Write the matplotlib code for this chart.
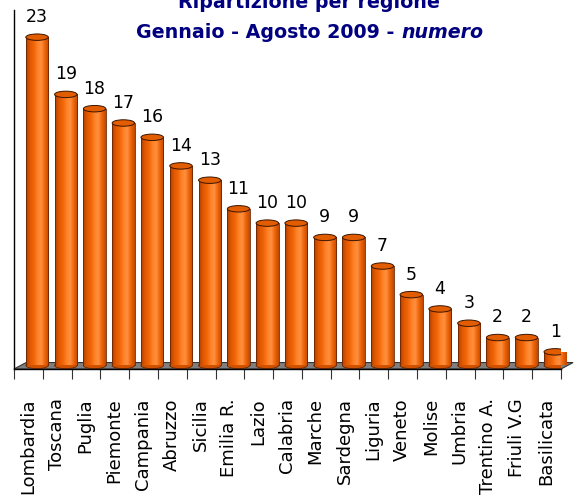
import numpy as np
import matplotlib
matplotlib.use("Agg")
import matplotlib.pyplot as plt
from matplotlib.patches import Ellipse, Rectangle, Polygon
from matplotlib.colors import LinearSegmentedColormap

regions = ["Lombardia", "Toscana", "Puglia", "Piemonte", "Campania", "Abruzzo",
           "Sicilia", "Emilia R.", "Lazio", "Calabria", "Marche", "Sardegna",
           "Liguria", "Veneto", "Molise", "Umbria", "Trentino A.", "Friuli V.G",
           "Basilicata"]
counts = [23, 19, 18, 17, 16, 14, 13, 11, 10, 10, 9, 9, 7, 5, 4, 3, 2, 2, 1]

TITLE_COLOR = "#000080"
BAR_W = 0.78
CAP_H = 0.45

body_cmap = LinearSegmentedColormap.from_list(
    "cyl", ["#b04000", "#e05800", "#f06408", "#ff8025", "#ff9040", "#ee6408", "#c04800"])

fig = plt.figure(figsize=(5.74, 5.0), dpi=100)
ax = fig.add_axes([14 / 574, (500 - 369) / 500, 547 / 574, (369 - 10) / 500])
ax.set_xlim(-0.80, 18.2)
ax.set_ylim(-0.2, 24.9)

# grey floor
floor = Polygon([(-0.80, -0.2), (18.2, -0.2), (18.62, 0.25), (-0.38, 0.25)],
                closed=True, facecolor="#808080", edgecolor="#333333", lw=0.8,
                clip_on=False, zorder=1)
ax.add_patch(floor)

grad = np.linspace(0, 1, 64).reshape(1, -1)
for i, v in enumerate(counts):
    x0 = i - BAR_W / 2
    bottom = Ellipse((i, 0.05), BAR_W, CAP_H, facecolor="#d05200",
                     edgecolor="#6a2500", lw=0.6, zorder=2)
    ax.add_patch(bottom)
    body = Rectangle((x0, 0.05), BAR_W, v - 0.05, facecolor="#e65c00",
                     edgecolor="none", zorder=3)
    ax.add_patch(body)
    im = ax.imshow(grad, cmap=body_cmap, aspect="auto",
                   extent=[x0, x0 + BAR_W, 0.05, v], zorder=3)
    im.set_clip_path(body)
    ax.plot([x0, x0], [0.05, v], color="#6a2500", lw=0.6, zorder=4)
    ax.plot([x0 + BAR_W, x0 + BAR_W], [0.05, v], color="#6a2500", lw=0.6, zorder=4)
    top = Ellipse((i, v), BAR_W, CAP_H, facecolor="#e25c00",
                  edgecolor="#3a1500", lw=0.7, zorder=5)
    ax.add_patch(top)
    ax.annotate(str(v), (i, v), xytext=(0, 8), textcoords="offset points",
                ha="center", va="bottom", fontsize=12.5, color="black")

for s in ["top", "right"]:
    ax.spines[s].set_visible(False)
ax.spines["left"].set_linewidth(1.0)
ax.spines["bottom"].set_linewidth(1.0)
ax.set_yticks([])

ax.set_xticks(np.arange(20) - 0.80, minor=True)
ax.tick_params(axis="x", which="minor", length=7, width=0.8, color="#333333")
ax.set_xticks(np.arange(len(regions)) - 0.32)
ax.set_xticklabels(regions, rotation=90, fontsize=13, va="top", ha="center")
ax.tick_params(axis="x", which="major", length=0, pad=21)

# title
fig.text(309 / 574, 1 - 2 / 500, "Ripartizione per regione", ha="center",
         va="center", fontsize=13.7, fontweight="bold", color=TITLE_COLOR)
renderer = fig.canvas.get_renderer()
t1 = fig.text(0, 1 - 32 / 500, "Gennaio - Agosto 2009 - ", ha="left", va="center",
              fontsize=13.7, fontweight="bold", color=TITLE_COLOR)
t2 = fig.text(0, 1 - 32 / 500, "numero", ha="left", va="center",
              fontsize=13.7, fontweight="bold", style="italic", color=TITLE_COLOR)
w1 = t1.get_window_extent(renderer).width
w2 = t2.get_window_extent(renderer).width
left = 310 - (w1 + w2) / 2
t1.set_x(left / 574)
t2.set_x((left + w1) / 574)

fig.savefig("out.png", dpi=100)
